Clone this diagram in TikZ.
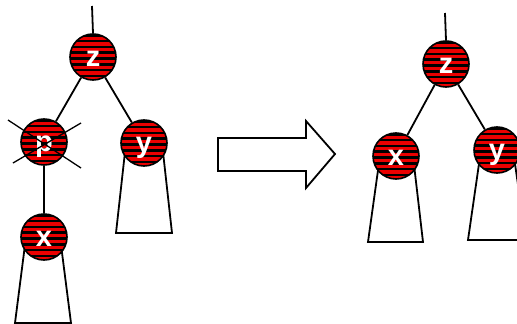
\documentclass[tikz,border=0pt]{standalone}
\usepackage{fontspec}
\setmainfont{Liberation Sans}
\newfontfamily\labelfont{Liberation Sans Bold}
\definecolor{stripered}{RGB}{235,0,0}
\tikzset{
  rbnode/.style={circle, draw=black, line width=1.6pt, minimum size=46pt,
    inner sep=0pt, fill=black, text=white, text height=18pt, text depth=0pt,
    font=\labelfont\fontsize{29}{29}\selectfont,
    path picture={
      \foreach \k in {0,...,9}{
        \fill[stripered] ([yshift=-\k*5.8pt-2.6pt]path picture bounding box.north west)
          rectangle ++(60pt,-3.1pt);
      }
    }},
  edge/.style={line width=1.8pt, black},
  subtree/.style={line width=1.8pt, black, fill=white, line join=miter},
  crossline/.style={line width=1.3pt, black},
}
\begin{document}
\begin{tikzpicture}[x=1pt,y=-1pt]
  \useasboundingbox (0,0) rectangle (517,324);
  \clip (0,0) rectangle (517,324);

  % ----- before: z with children p (marked for removal) and y; x below p
  \coordinate (ltop) at (92,6);
  \draw[subtree] (15,323) -- (71,323) -- (60,237) -- (26,237) -- cycle;
  \draw[subtree] (116,233) -- (172,233) -- (162,143) -- (126,143) -- cycle;
  \node[rbnode] (lz) at (93,57) {z};
  \node[rbnode] (lp) at (44,142) {p};
  \node[rbnode] (ly) at (144,143) {y};
  \node[rbnode] (lx) at (44,237) {x};
  \draw[edge] (ltop) -- (lz.north);
  \draw[edge] (lz) -- (lp);
  \draw[edge] (lz) -- (ly);
  \draw[edge] (lp) -- (lx);
  \draw[crossline] (8,120) -- (81,168);
  \draw[crossline] (81,123) -- (13,163);

  % ----- transition arrow
  \draw[line width=1.8pt, fill=white, line join=miter]
    (218,138) -- (306,138) -- (306,121) -- (335,154) -- (306,188)
    -- (306,171) -- (218,171) -- cycle;

  % ----- after: x takes the place of p
  \coordinate (rtop) at (445,13);
  \draw[subtree] (368,242) -- (423,242) -- (413,156) -- (380,156) -- cycle;
  \draw[subtree] (468,240) -- (526,240) -- (513,150) -- (481,150) -- cycle;
  \node[rbnode] (rz) at (446,64) {z};
  \node[rbnode] (rx) at (396,156) {x};
  \node[rbnode] (ry) at (497,150) {y};
  \draw[edge] (rtop) -- (rz.north);
  \draw[edge] (rz) -- (rx);
  \draw[edge] (rz) -- (ry);
\end{tikzpicture}
\end{document}
